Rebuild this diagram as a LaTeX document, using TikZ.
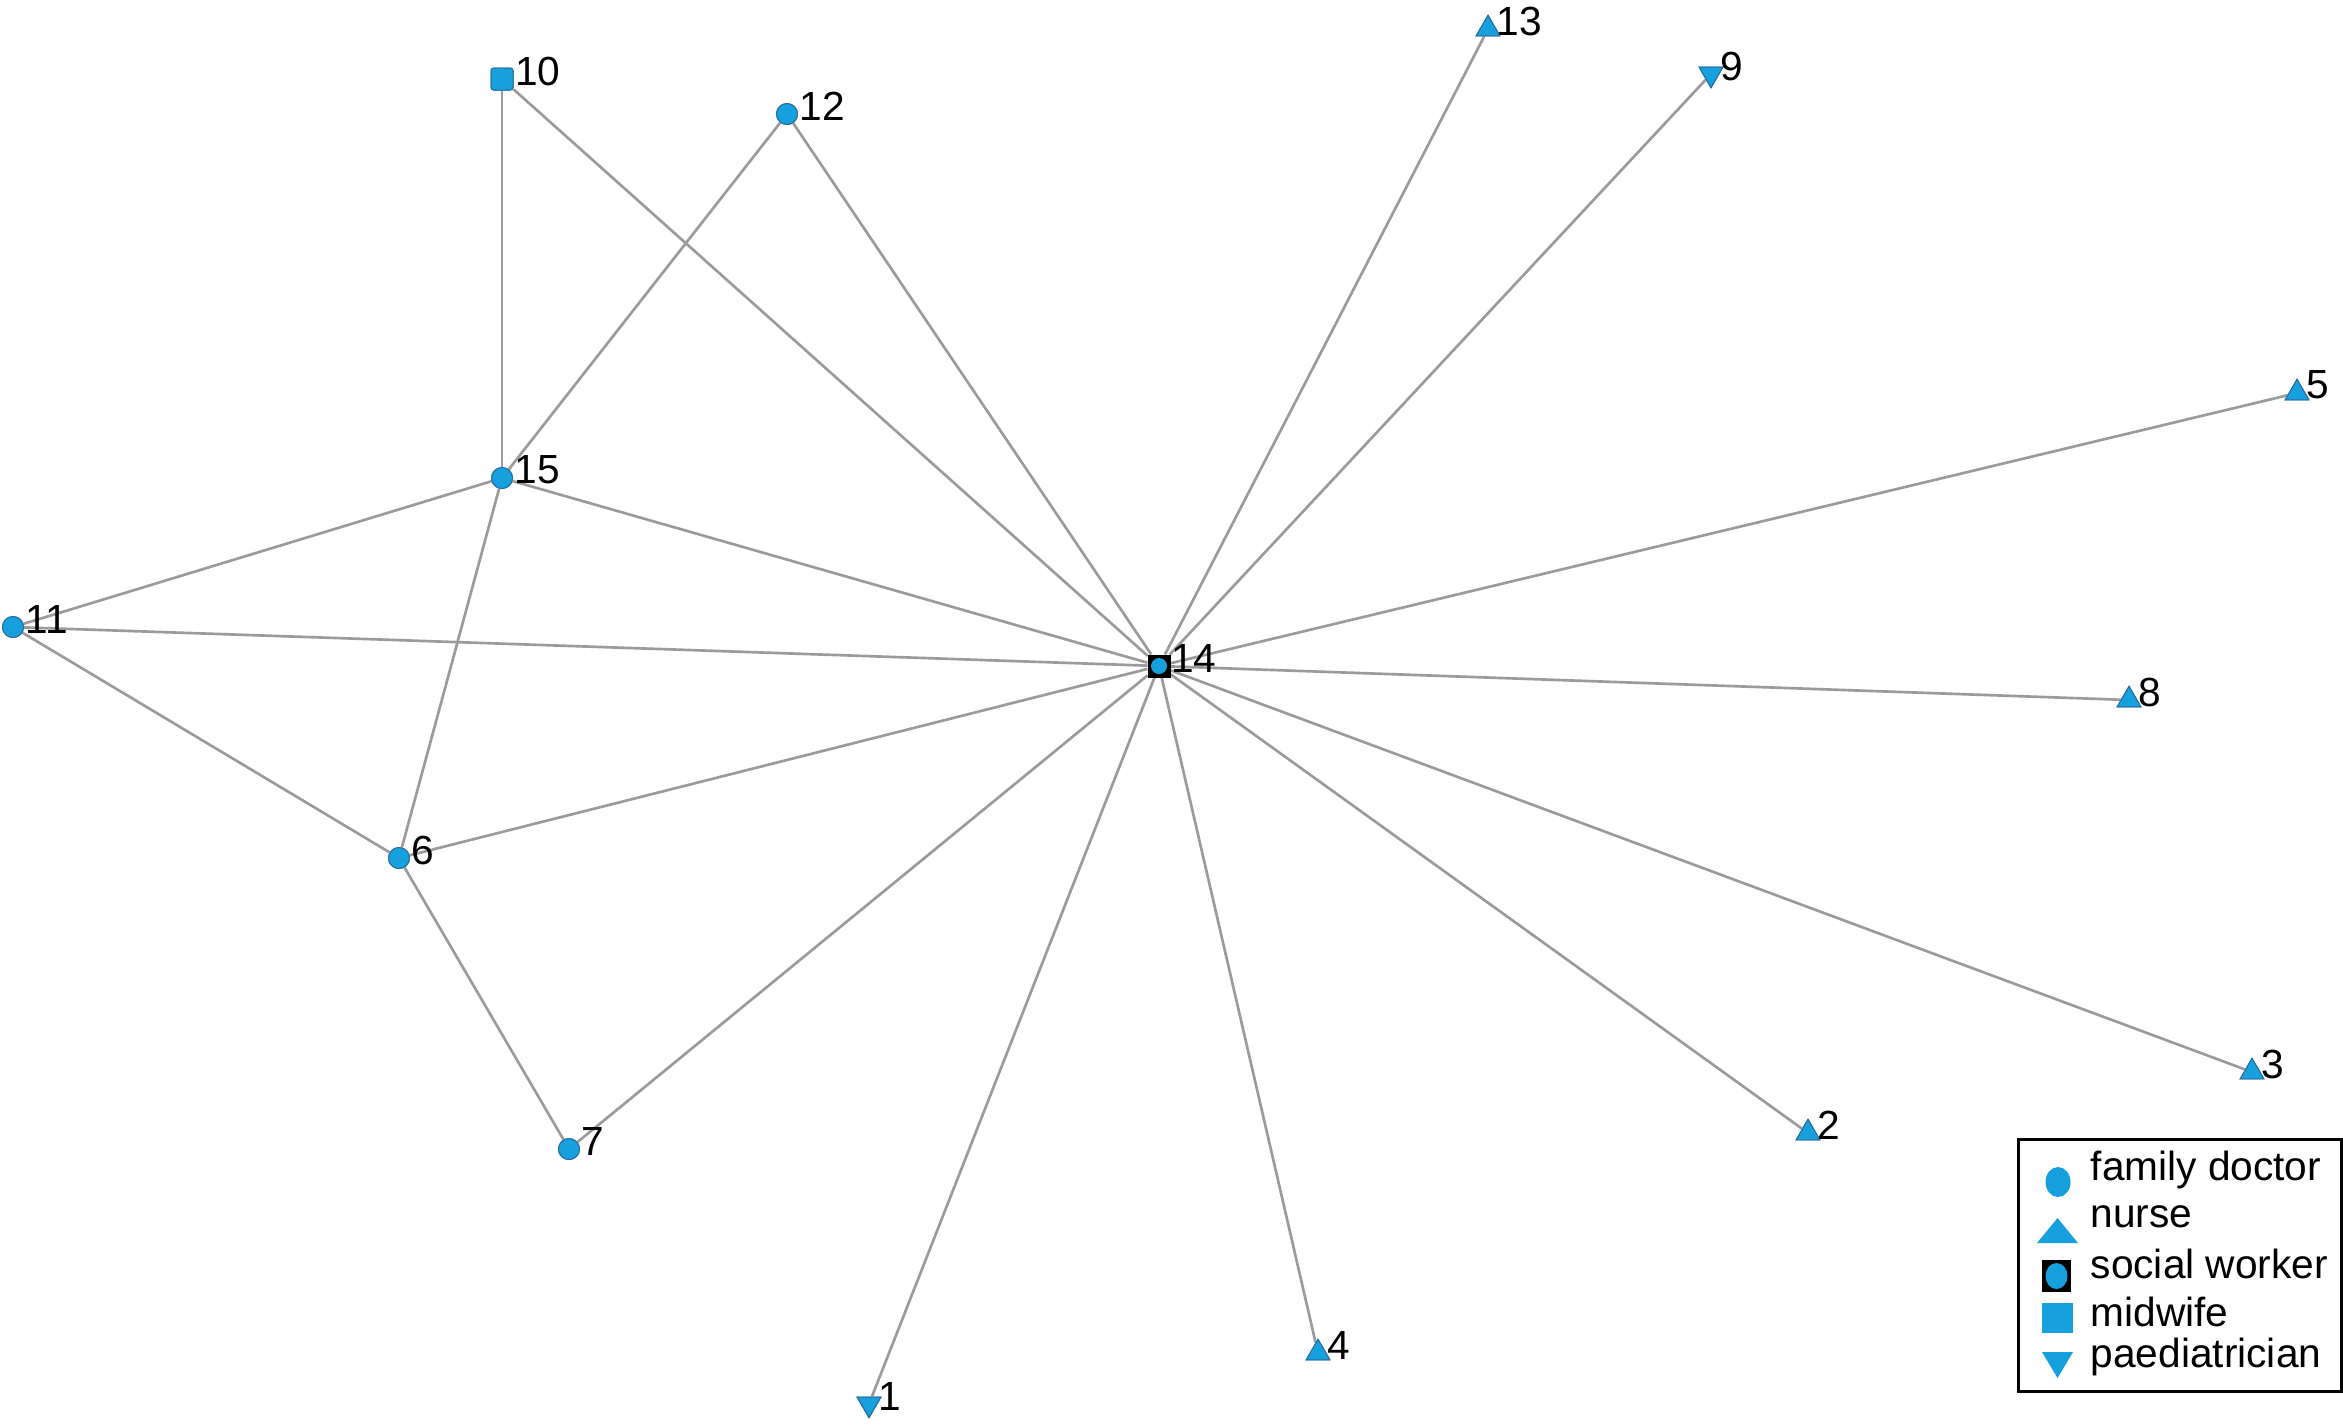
\documentclass[tikz,border=0pt]{standalone}
\usepackage{fontspec}
\setmainfont{Liberation Sans}
\usetikzlibrary{shapes.geometric}
\definecolor{nodeblue}{RGB}{22,160,222}
\definecolor{nodeedge}{RGB}{40,110,160}
\definecolor{linkgray}{RGB}{155,155,155}
\begin{document}
\begin{tikzpicture}[x=0.3pt,y=-0.3pt,
  every node/.style={font=\fontsize{12.2}{14}\selectfont},
  base/.style={fill=nodeblue,draw=nodeedge,line width=0.3pt,inner sep=0pt},
  doc/.style={base,circle,minimum size=6.3pt},
  nur/.style={base,regular polygon,regular polygon sides=3,minimum size=8.2pt},
  ped/.style={nur,shape border rotate=180},
  mid/.style={base,rectangle,minimum size=6.6pt,rounded corners=0.8pt},
  soc/.style={rectangle,draw=black,fill=black,line width=0.3pt,minimum size=6.6pt,inner sep=0pt},
  lbl/.style={inner sep=0pt,anchor=west,yshift=2.4pt},
  link/.style={draw=linkgray,line width=0.8pt},
  legtext/.style={anchor=west,inner sep=0pt}
]
\useasboundingbox (0,0) rectangle (2343,1426);
% nodes
\node[mid] (n10) at (502,79) {};
\node[doc] (n12) at (787,114) {};
\node[nur] (n13) at (1488,29) {};
\node[ped] (n9) at (1711,74) {};
\node[nur] (n5) at (2297,393) {};
\node[doc] (n15) at (502,478) {};
\node[doc] (n11) at (13,627) {};
\node[soc] (n14) at (1159,666) {};
\node[nur] (n8) at (2129,700) {};
\node[doc] (n6) at (399,858) {};
\node[nur] (n3) at (2252,1072) {};
\node[nur] (n2) at (1808,1133) {};
\node[doc] (n7) at (569,1149) {};
\node[nur] (n4) at (1318,1353) {};
\node[ped] (n1) at (869,1404) {};
% edges
\foreach \t in {10,12,13,9,5,15,11,8,6,3,2,7,4,1}
  \draw[link] (n14) -- (n\t);
\draw[link] (n10) -- (n15);
\draw[link] (n12) -- (n15);
\draw[link] (n15) -- (n11);
\draw[link] (n15) -- (n6);
\draw[link] (n11) -- (n6);
\draw[link] (n6) -- (n7);
% redraw nodes on top of the edges
\node[mid] at (n10) {};
\node[doc] at (n12) {};
\node[nur] at (n13) {};
\node[ped] at (n9) {};
\node[nur] at (n5) {};
\node[doc] at (n15) {};
\node[doc] at (n11) {};
\node[soc] at (n14) {};
\node[doc,minimum size=4.8pt,draw=none] (n14c) at (n14) {};
\node[nur] at (n8) {};
\node[doc] at (n6) {};
\node[nur] at (n3) {};
\node[nur] at (n2) {};
\node[doc] at (n7) {};
\node[nur] at (n4) {};
\node[ped] at (n1) {};
% labels
\node[lbl] (l10) at ([xshift=3.8pt]n10.center) {10};
\node[lbl] (l12) at ([xshift=3.6pt]n12.center) {12};
\node[lbl] (l13) at ([xshift=2.4pt]n13.center) {13};
\node[lbl] (l9) at ([xshift=2.6pt]n9.center) {9};
\node[lbl] (l5) at ([xshift=2.6pt]n5.center) {5};
\node[lbl] (l15) at ([xshift=3.6pt]n15.center) {15};
\node[lbl] (l11) at ([xshift=3.6pt]n11.center) {11};
\node[lbl] (l14) at ([xshift=3.4pt]n14.center) {14};
\node[lbl] (l8) at ([xshift=2.6pt]n8.center) {8};
\node[lbl] (l6) at ([xshift=3.6pt]n6.center) {6};
\node[lbl] (l3) at ([xshift=2.6pt]n3.center) {3};
\node[lbl] (l2) at ([xshift=2.6pt]n2.center) {2};
\node[lbl] (l7) at ([xshift=3.6pt]n7.center) {7};
\node[lbl] (l4) at ([xshift=2.6pt]n4.center) {4};
\node[lbl] (l1) at ([xshift=2.6pt]n1.center) {1};
% legend
\node[draw=black,line width=0.9pt,minimum width=323*0.3pt,minimum height=252*0.3pt,anchor=north west,inner sep=0pt] (legend) at (2017,1138) {};
\fill[nodeblue] (2058,1182) ellipse [x radius=12.5,y radius=15];
\fill[nodeblue] (2037,1243) -- (2078,1243) -- (2057.5,1218) -- cycle;
\fill[black] (2042,1260) rectangle (2071,1292);
\fill[nodeblue] (2056.5,1276) ellipse [x radius=11,y radius=13];
\fill[nodeblue] (2042,1303) rectangle (2073,1333);
\fill[nodeblue] (2042,1352) -- (2073,1352) -- (2057.5,1378) -- cycle;
\node[legtext] (t1) at (2090,1170) {family doctor};
\node[legtext] (t2) at (2090,1217) {nurse};
\node[legtext] (t3) at (2090,1264) {social worker};
\node[legtext] (t4) at (2090,1312) {midwife};
\node[legtext] (t5) at (2090,1357) {paediatrician};
\end{tikzpicture}
\end{document}
